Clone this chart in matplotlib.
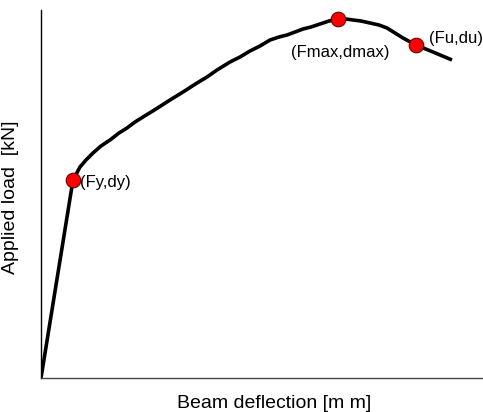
import matplotlib.pyplot as plt

plt.rcParams['font.family'] = ['Liberation Sans', 'DejaVu Sans']

# load-deflection curve (arbitrary units)
defl = [0, 32, 39, 45, 52, 60, 69, 78, 86, 94, 102, 115, 129, 142, 156, 166, 176, 189, 199, 209, 219, 229, 238, 246, 254, 262, 270, 279, 288, 297, 305, 312, 320, 329, 338, 346, 354, 362, 375, 392, 411]
load = [0, 198, 211, 218, 225, 232, 238, 245, 250, 256, 261, 269, 278, 286, 295, 301, 308, 316, 321, 327, 332, 338, 341, 343, 346, 349, 351, 354, 357, 359, 359, 358, 357, 355, 353, 350, 345, 340, 333, 326, 318]

pts_x = [32, 297, 375]
pts_y = [198, 359, 333]
pts_lab = ['(Fy,dy)', '(Fmax,dmax)', '(Fu,du)']

fig = plt.figure(figsize=(4.83, 4.12), dpi=100)
ax = fig.add_axes([41/483, 34/412, 442/483, 368/412])
ax.plot(defl, load, color='black', lw=2.6, solid_capstyle='butt', solid_joinstyle='round')
ax.plot(pts_x, pts_y, 'o', ms=10.5, mfc='red', mec='#660000', mew=0.8, zorder=3)

ax.text(pts_x[0] + 7, pts_y[0] - 2, pts_lab[0], fontsize=12, va='center', ha='left')
ax.text(pts_x[1] - 47, pts_y[1] - 33, pts_lab[1], fontsize=12, va='center', ha='left')
ax.text(pts_x[2] + 13, pts_y[2] + 7, pts_lab[2], fontsize=12, va='center', ha='left', clip_on=False)

ax.set_xlim(0, 442)
ax.set_ylim(0, 368)
ax.set_xticks([])
ax.set_yticks([])
ax.spines['top'].set_visible(False)
ax.spines['right'].set_visible(False)
ax.spines['left'].set_linewidth(1.0)
ax.spines['bottom'].set_linewidth(1.0)
ax.spines['bottom'].set_color('#444444')

ax.set_xlabel('Beam deflection [m m]', fontsize=14)
ax.set_ylabel('Applied load  [kN]', fontsize=14)
ax.xaxis.set_label_coords(0.527, -0.045)
ax.yaxis.set_label_coords(-0.05, 0.49)

fig.savefig('out.png', dpi=100)
